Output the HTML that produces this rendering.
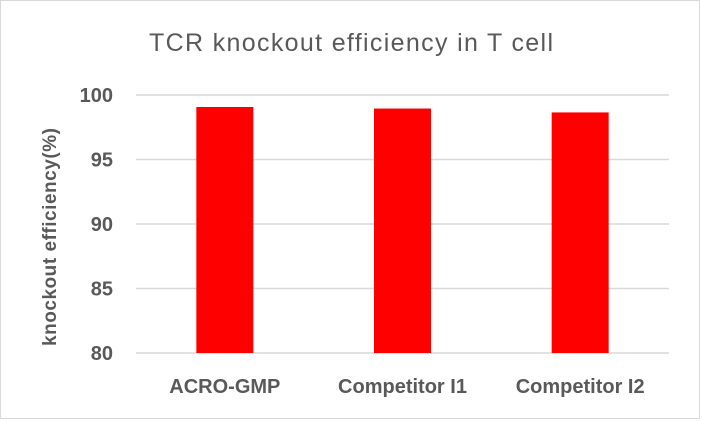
<!DOCTYPE html>
<html><head><meta charset="utf-8"><style>
body{margin:0;background:#fff;}
svg{display:block;font-family:"Liberation Sans",sans-serif;}
</style></head><body>
<svg width="702" height="421">
<rect x="0.5" y="0.5" width="699" height="418" fill="#fff" stroke="#d9d9d9"/>
<text x="351" y="51" text-anchor="middle" font-size="25" fill="#595959" textLength="404">TCR knockout efficiency in T cell</text>
<text transform="translate(56,237) rotate(-90)" text-anchor="middle" font-size="19" font-weight="bold" fill="#595959" textLength="218">knockout efficiency(%)</text>
<g id="grid"></g><g id="bars"></g><g id="labels"></g>
</svg>
<script>
const categories=["ACRO-GMP","Competitor I1","Competitor I2"];
const values=[99.07,98.95,98.65];
const ticks=[80,85,90,95,100];
const ns="http://www.w3.org/2000/svg";
const x0=136,x1=669,yTop=95,yBot=353,vMin=80,vMax=100;
const y=v=>yBot-(v-vMin)/(vMax-vMin)*(yBot-yTop);
const band=(x1-x0)/categories.length;
const g=document.getElementById('grid'),b=document.getElementById('bars'),l=document.getElementById('labels');
ticks.forEach(t=>{
 const ln=document.createElementNS(ns,'line');
 
 
 ln.setAttribute('x1',x0);ln.setAttribute('x2',x1);ln.setAttribute('y1',y(t));ln.setAttribute('y2',y(t));
 ln.setAttribute('stroke','#d9d9d9');ln.setAttribute('stroke-width','1.5');g.appendChild(ln);
 const tx=document.createElementNS(ns,'text');
 
 
 tx.setAttribute('x',113);tx.setAttribute('y',y(t)+7);tx.setAttribute('text-anchor','end');
 tx.setAttribute('font-size','20');tx.setAttribute('font-weight','bold');tx.setAttribute('fill','#595959');
 tx.textContent=t;l.appendChild(tx);
});
categories.forEach((c,i)=>{
 const cx=x0+band*(i+0.5);
 const r=document.createElementNS(ns,'rect');
 
 
 r.setAttribute('x',cx-28.5);r.setAttribute('width',57);
 r.setAttribute('y',y(values[i]));r.setAttribute('height',yBot-y(values[i]));
 r.setAttribute('fill','#ff0000');b.appendChild(r);
 const tx=document.createElementNS(ns,'text');
 
 
 tx.setAttribute('x',cx);tx.setAttribute('y',393);tx.setAttribute('text-anchor','middle');
 tx.setAttribute('font-size','20');tx.setAttribute('font-weight','bold');tx.setAttribute('fill','#595959');
 tx.textContent=c;l.appendChild(tx);
});
</script>
</body></html>
